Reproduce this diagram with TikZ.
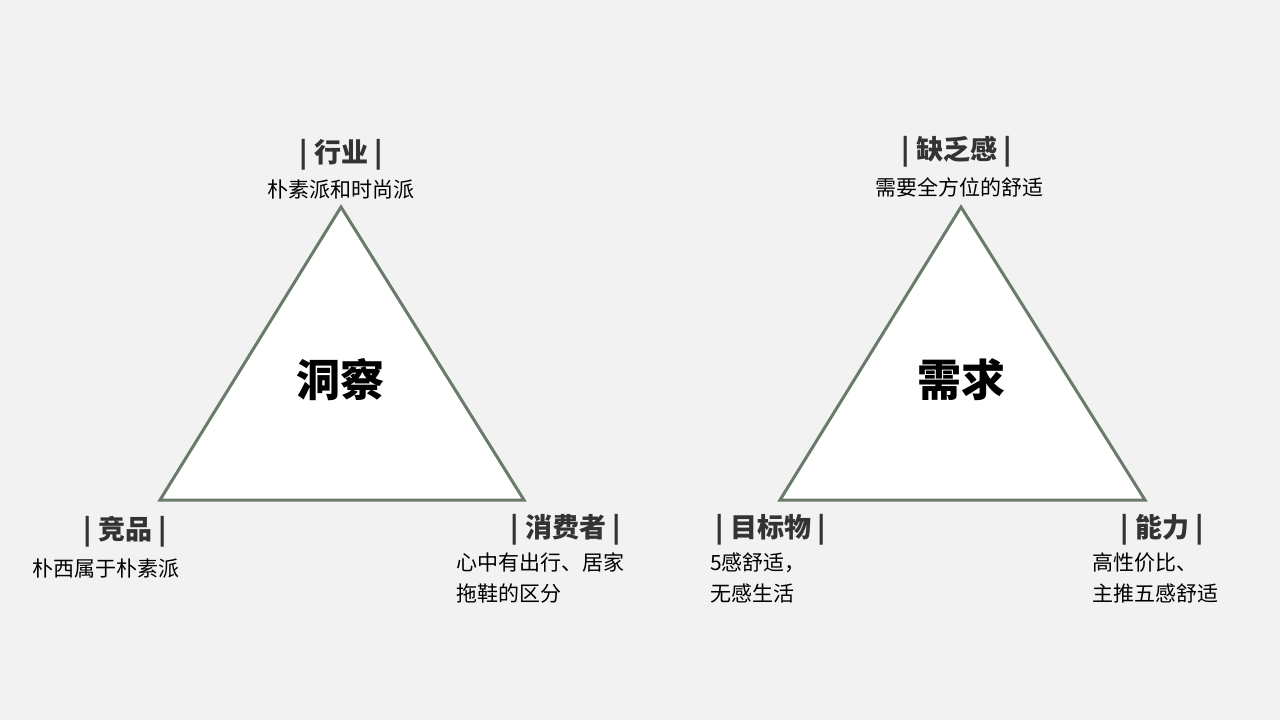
\documentclass[tikz,border=0pt]{standalone}
\usepackage{fontspec}
\setmainfont{Noto Sans CJK SC}
\definecolor{bg}{HTML}{F2F2F2}
\definecolor{edge}{HTML}{6B7B6B}
\definecolor{txt}{HTML}{333333}
\begin{document}
\begin{tikzpicture}[x=1pt,y=-1pt,
  tri/.style={draw=edge,fill=white,line width=3pt,line join=miter},
  head/.style={font=\fontsize{27}{30}\selectfont\bfseries,text=txt,inner sep=0pt},
  sub/.style={font=\fontsize{21}{31}\selectfont,text=black,inner sep=0pt,align=left},
  big/.style={font=\fontsize{44}{48}\selectfont\bfseries,text=black,inner sep=0pt}]
\fill[bg] (0,0) rectangle (1280,720);
\useasboundingbox (0,0) rectangle (1280,720);
\coordinate (a1) at (341,207); \coordinate (b1) at (160,500); \coordinate (c1) at (524,500);
\coordinate (a2) at (961,207); \coordinate (b2) at (780,500); \coordinate (c2) at (1145,500);
\draw[tri] (a1) -- (b1) -- (c1) -- cycle;
\draw[tri] (a2) -- (b2) -- (c2) -- cycle;
\node[big] (t1) at (340,380) {洞察};
\node[big] (t2) at (961,380) {需求};
\node[head] (h1) at (341,155) {| 行业 |};
\node[sub] (s1) at (341,190) {朴素派和时尚派};
\node[head] (h2) at (125,532) {| 竞品 |};
\node[sub,anchor=west] (s2) at (32,569) {朴西属于朴素派};
\node[head] (h3) at (566,530) {| 消费者 |};
\node[sub,anchor=north west] (s3) at (456,553) {心中有出行、居家\\拖鞋的区分};
\node[head] (h4) at (957,152) {| 缺乏感 |};
\node[sub] (s4) at (959,187) {需要全方位的舒适};
\node[head] (h5) at (771,530) {| 目标物 |};
\node[sub,anchor=north west] (s5) at (710,553) {5感舒适，\\无感生活};
\node[head] (h6) at (1162,530) {| 能力 |};
\node[sub,anchor=north west] (s6) at (1092,553) {高性价比、\\主推五感舒适};
\end{tikzpicture}
\end{document}
